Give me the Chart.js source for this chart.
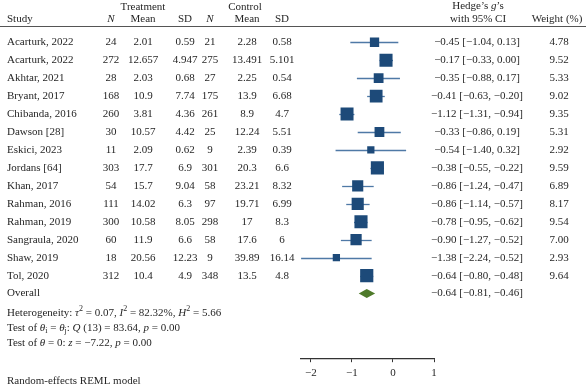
<!DOCTYPE html>
<html>
<head>
<meta charset="utf-8">
<script src="https://cdn.jsdelivr.net/npm/chart.js@4"></script>
<style>
  html, body { margin: 0; padding: 0; background: #fff; }
  canvas { display: block; }
</style>
</head>
<body>
<canvas id="forest" width="586" height="384"></canvas>
<script>
// --- Data ---
const studies = ["Acarturk, 2022", "Acarturk, 2022", "Akhtar, 2021", "Bryant, 2017", "Chibanda, 2016",
  "Dawson [28]", "Eskici, 2023", "Jordans [64]", "Khan, 2017", "Rahman, 2016", "Rahman, 2019",
  "Sangraula, 2020", "Shaw, 2019", "Tol, 2020"];
const treatN = [24, 272, 28, 168, 260, 30, 11, 303, 54, 111, 300, 60, 18, 312];
const treatMean = [2.01, 12.657, 2.03, 10.9, 3.81, 10.57, 2.09, 17.7, 15.7, 14.02, 10.58, 11.9, 20.56, 10.4];
const treatSD = [0.59, 4.947, 0.68, 7.74, 4.36, 4.42, 0.62, 6.9, 9.04, 6.3, 8.05, 6.6, 12.23, 4.9];
const ctrlN = [21, 275, 27, 175, 261, 25, 9, 301, 58, 97, 298, 58, 9, 348];
const ctrlMean = [2.28, 13.491, 2.25, 13.9, 8.9, 12.24, 2.39, 20.3, 23.21, 19.71, 17, 17.6, 39.89, 13.5];
const ctrlSD = [0.58, 5.101, 0.54, 6.68, 4.7, 5.51, 0.39, 6.6, 8.32, 6.99, 8.3, 6, 16.14, 4.8];
const hedgeG = [-0.45, -0.17, -0.35, -0.41, -1.12, -0.33, -0.54, -0.38, -0.86, -0.86, -0.78, -0.90, -1.38, -0.64];
const ciLow = [-1.04, -0.33, -0.88, -0.63, -1.31, -0.86, -1.40, -0.55, -1.24, -1.14, -0.95, -1.27, -2.24, -0.80];
const ciHigh = [0.13, 0.00, 0.17, -0.20, -0.94, 0.19, 0.32, -0.22, -0.47, -0.57, -0.62, -0.52, -0.52, -0.48];
const weights = [4.78, 9.52, 5.33, 9.02, 9.35, 5.31, 2.92, 9.59, 6.89, 8.17, 9.54, 7.00, 2.93, 9.64];
const overall = [-0.64, -0.81, -0.46]; // estimate, low, high
const xTicks = [-2, -1, 0, 1];

// --- Styles ---
const FONT = '"Liberation Serif", "DejaVu Serif", serif';
const SIZE = 11;
const TEXT = "#262626";
const SQUARE = "#1d4a79";
const CI_LINE = "#4f79a6";
const DIAMOND = "#4e7a2a";

const minus = s => s.replace(/-/g, "\u2212");
const fmt2 = v => minus(v.toFixed(2));

// draws text made of styled pieces: [text, style] with style "", "i", "sup", "sub"
function richText(ctx, x, y, parts, align) {
  const fontFor = st => {
    const small = st === "sup" || st === "sub";
    return (st === "i" ? "italic " : "") + (small ? 8 : SIZE) + "px " + FONT;
  };
  let total = 0;
  parts.forEach(([t, st]) => { ctx.font = fontFor(st); total += ctx.measureText(t).width; });
  let cx = align === "center" ? x - total / 2 : align === "right" ? x - total : x;
  ctx.textAlign = "left";
  parts.forEach(([t, st]) => {
    ctx.font = fontFor(st);
    let dy = 0;
    if (st === "sup") dy = -4;
    if (st === "sub") dy = 3;
    ctx.fillText(t, cx, y + dy);
    cx += ctx.measureText(t).width;
  });
}

const forestPlugin = {
  id: "forest",
  beforeDatasetsDraw(chart) {
    const { ctx, scales: { x, y } } = chart;
    ctx.save();
    ctx.strokeStyle = CI_LINE;
    ctx.lineWidth = 1.3;
    studies.forEach((s, i) => {
      const py = Math.round(y.getPixelForValue(i)) + 0.5;
      ctx.beginPath();
      ctx.moveTo(x.getPixelForValue(ciLow[i]), py);
      ctx.lineTo(x.getPixelForValue(ciHigh[i]), py);
      ctx.stroke();
    });
    ctx.restore();
  },
  afterDraw(chart) {
    const { ctx, scales: { x, y } } = chart;
    const W = chart.width;
    ctx.save();
    ctx.fillStyle = TEXT;
    ctx.textBaseline = "middle";

    // headers
    richText(ctx, 143, 7, [["Treatment", ""]], "center");
    richText(ctx, 245, 7, [["Control", ""]], "center");
    richText(ctx, 478, 6, [["Hedge\u2019s ", ""], ["g", "i"], ["\u2019s", ""]], "center");
    const h2 = 19;
    richText(ctx, 7, h2, [["Study", ""]], "left");
    richText(ctx, 111, h2, [["N", "i"]], "center");
    richText(ctx, 143, h2, [["Mean", ""]], "center");
    richText(ctx, 185, h2, [["SD", ""]], "center");
    richText(ctx, 210, h2, [["N", "i"]], "center");
    richText(ctx, 247, h2, [["Mean", ""]], "center");
    richText(ctx, 282, h2, [["SD", ""]], "center");
    richText(ctx, 478, h2, [["with 95% CI", ""]], "center");
    richText(ctx, 557, h2, [["Weight (%)", ""]], "center");

    ctx.strokeStyle = "#555";
    ctx.lineWidth = 1;
    ctx.beginPath();
    ctx.moveTo(0, 26.5);
    ctx.lineTo(W, 26.5);
    ctx.stroke();

    // study rows
    studies.forEach((s, i) => {
      const py = y.getPixelForValue(i);
      richText(ctx, 7, py, [[s, ""]], "left");
      richText(ctx, 111, py, [[String(treatN[i]), ""]], "center");
      richText(ctx, 143, py, [[String(treatMean[i]), ""]], "center");
      richText(ctx, 185, py, [[String(treatSD[i]), ""]], "center");
      richText(ctx, 210, py, [[String(ctrlN[i]), ""]], "center");
      richText(ctx, 247, py, [[String(ctrlMean[i]), ""]], "center");
      richText(ctx, 282, py, [[String(ctrlSD[i]), ""]], "center");
      richText(ctx, 477, py, [[fmt2(hedgeG[i]) + " [" + fmt2(ciLow[i]) + ", " + fmt2(ciHigh[i]) + "]", ""]], "center");
      richText(ctx, 559, py, [[weights[i].toFixed(2), ""]], "center");
    });

    // overall row
    const oy = y.getPixelForValue(studies.length);
    richText(ctx, 7, oy, [["Overall", ""]], "left");
    richText(ctx, 477, oy, [[fmt2(overall[0]) + " [" + fmt2(overall[1]) + ", " + fmt2(overall[2]) + "]", ""]], "center");
    ctx.fillStyle = DIAMOND;
    ctx.beginPath();
    ctx.moveTo(x.getPixelForValue(overall[1]) - 1, oy);
    ctx.lineTo(x.getPixelForValue(overall[0]), oy - 4.5);
    ctx.lineTo(x.getPixelForValue(overall[2]) + 1, oy);
    ctx.lineTo(x.getPixelForValue(overall[0]), oy + 4.5);
    ctx.closePath();
    ctx.fill();

    // summary statistics
    ctx.fillStyle = TEXT;
    richText(ctx, 7, 313, [["Heterogeneity: ", ""], ["\u03c4", "i"], ["2", "sup"], [" = 0.07, ", ""], ["I", "i"], ["2", "sup"],
      [" = 82.32%, ", ""], ["H", "i"], ["2", "sup"], [" = 5.66", ""]], "left");
    richText(ctx, 7, 328, [["Test of ", ""], ["\u03b8", "i"], ["i", "sub"], [" = ", ""], ["\u03b8", "i"], ["j", "sub"],
      [": ", ""], ["Q", "i"], [" (13) = 83.64, ", ""], ["p", "i"], [" = 0.00", ""]], "left");
    richText(ctx, 7, 343, [["Test of ", ""], ["\u03b8", "i"], [" = 0: ", ""], ["z", "i"], [" = \u22127.22, ", ""],
      ["p", "i"], [" = 0.00", ""]], "left");
    richText(ctx, 7, 381, [["Random-effects REML model", ""]], "left");
    ctx.restore();
  }
};

new Chart(document.getElementById("forest"), {
  type: "scatter",
  data: {
    datasets: [{
      data: hedgeG.map((v, i) => ({ x: v, y: i })),
      pointStyle: "rect",
      pointRadius: weights.map(w => 3.0 * Math.sqrt(w)),
      backgroundColor: SQUARE,
      borderWidth: 0
    }]
  },
  options: {
    responsive: false,
    animation: false,
    events: [],
    layout: { padding: { left: 300.7, right: 152, top: 24.3, bottom: 3.8 } },
    plugins: { legend: { display: false }, tooltip: { enabled: false } },
    scales: {
      x: {
        type: "linear",
        min: -2.25,
        max: 1,
        afterBuildTicks: s => { s.ticks = xTicks.map(v => ({ value: v })); },
        afterFit: s => { s.height = 22; },
        border: { display: true, color: "#333", width: 1.2 },
        grid: { drawOnChartArea: false, drawTicks: true, tickLength: 4, color: "#333" },
        ticks: {
          padding: 4,
          color: TEXT,
          font: { family: FONT, size: SIZE },
          callback: v => minus(String(v))
        }
      },
      y: {
        type: "linear",
        reverse: true,
        min: -1,
        max: 17.6,
        display: false
      }
    }
  },
  plugins: [forestPlugin]
});
</script>
</body>
</html>
